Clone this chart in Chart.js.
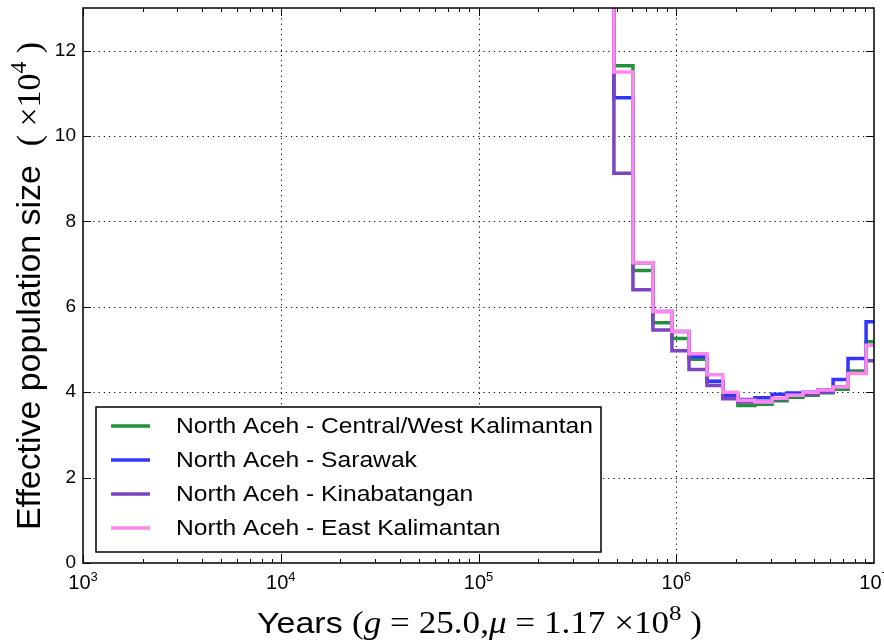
<!DOCTYPE html>
<html>
<head>
<meta charset="utf-8">
<script src="https://cdn.jsdelivr.net/npm/chart.js@4"></script>
<style>
html, body { margin: 0; padding: 0; background: #fff; }
#wrap { width: 884px; height: 644px; position: relative; }
</style>
</head>
<body>
<div id="wrap"><canvas id="graph"></canvas></div>
<script>
// step edges (years) shared by all four PSMC curves
const years = [4.0e5, 4.84e5, 6.04e5, 7.62e5, 9.51e5, 1.16e6, 1.43e6, 1.72e6, 2.05e6, 2.50e6,
  3.05e6, 3.63e6, 4.37e6, 5.21e6, 6.21e6, 7.39e6, 9.12e6, 1.2e7];

// effective population size (x10^4), value holds from this edge to the next one
const centralWest = [16, 11.65, 6.85, 5.63, 5.26, 4.77, 4.25, 3.89, 3.69, 3.72, 3.80, 3.88, 3.93, 3.99, 4.07, 4.50, 5.18, 5.18];
const sarawak = [16, 10.9, 7.03, 5.89, 5.42, 4.83, 4.26, 3.93, 3.83, 3.87, 3.95, 3.98, 4.00, 4.06, 4.30, 4.79, 5.65, 5.65];
const kinabatangan = [16, 9.13, 6.40, 5.46, 4.97, 4.53, 4.16, 3.85, 3.77, 3.77, 3.84, 3.93, 3.96, 4.00, 4.13, 4.45, 4.74, 4.74];
const eastKalimantan = [16, 11.5, 7.03, 5.89, 5.42, 4.90, 4.41, 4.00, 3.81, 3.77, 3.86, 3.93, 4.00, 4.05, 4.12, 4.44, 5.10, 5.10];

const seriesNames = [
  'North Aceh - Central/West Kalimantan',
  'North Aceh - Sarawak',
  'North Aceh - Kinabatangan',
  'North Aceh - East Kalimantan'
];
const seriesColors = ['#22913d', '#3434ff', '#7b44c0', '#ff88ee'];

const xTickValues = [1e3, 1e4, 1e5, 1e6, 1e7];
const xTickExps = ['3', '4', '5', '6', '7'];
const yTickValues = [0, 2, 4, 6, 8, 10, 12];

const SANS = '"Liberation Sans", Arial, sans-serif';
const SERIF = '"Liberation Serif", "DejaVu Serif", serif';

function pts(ys) {
  return ys.map((y, i) => ({ x: years[i], y: y }));
}

// draws text pieces with mixed fonts, centred on cx, stretched to a target width
function drawPieces(ctx, pieces, cx, baseY, target) {
  let total = 0;
  pieces.forEach(p => { ctx.font = p.font; p.w = ctx.measureText(p.text).width; total += p.w; });
  const sx = target ? target / total : 1;
  ctx.save();
  ctx.translate(cx - total * sx / 2, baseY);
  ctx.scale(sx, 1);
  ctx.textAlign = 'left';
  ctx.textBaseline = 'alphabetic';
  ctx.fillStyle = '#000';
  let x = 0;
  pieces.forEach(p => {
    ctx.font = p.font;
    ctx.fillText(p.text, x, -(p.up || 0));
    x += p.w;
  });
  ctx.restore();
}

const framePlugin = {
  id: 'frame',
  beforeDatasetsDraw(chart) {
    const ctx = chart.ctx, a = chart.chartArea;
    const xs = chart.scales.x, ys = chart.scales.y;
    ctx.save();
    ctx.strokeStyle = '#000';
    ctx.lineWidth = 1;
    ctx.setLineDash([1.2, 4]);
    xTickValues.slice(1, -1).forEach(v => {
      const px = Math.round(xs.getPixelForValue(v)) + 0.5;
      ctx.beginPath(); ctx.moveTo(px, a.top); ctx.lineTo(px, a.bottom); ctx.stroke();
    });
    yTickValues.slice(1).forEach(v => {
      const py = Math.round(ys.getPixelForValue(v)) + 0.5;
      ctx.beginPath(); ctx.moveTo(a.left, py); ctx.lineTo(a.right, py); ctx.stroke();
    });
    ctx.restore();
  },
  afterDatasetsDraw(chart) {
    const ctx = chart.ctx, a = chart.chartArea;
    const xs = chart.scales.x, ys = chart.scales.y;
    ctx.save();
    ctx.strokeStyle = '#000';
    ctx.lineWidth = 1;
    // x ticks, major and minor, bottom and top, pointing inward
    for (let e = 3; e < 7; e++) {
      for (let m = 1; m <= 9; m++) {
        const px = Math.round(xs.getPixelForValue(m * Math.pow(10, e))) + 0.5;
        const len = m === 1 ? 8 : 4;
        ctx.beginPath();
        ctx.moveTo(px, a.bottom); ctx.lineTo(px, a.bottom - len);
        ctx.moveTo(px, a.top); ctx.lineTo(px, a.top + len);
        ctx.stroke();
      }
    }
    yTickValues.forEach(v => {
      const py = Math.round(ys.getPixelForValue(v)) + 0.5;
      ctx.beginPath();
      ctx.moveTo(a.left, py); ctx.lineTo(a.left + 8, py);
      ctx.moveTo(a.right, py); ctx.lineTo(a.right - 8, py);
      ctx.stroke();
    });
    ctx.lineWidth = 1.5;
    ctx.strokeRect(a.left, a.top, a.right - a.left, a.bottom - a.top);
    ctx.restore();

    // x tick labels: 10 with a raised exponent
    xTickValues.forEach((v, i) => {
      drawPieces(ctx, [
        { text: '10', font: '20px ' + SANS },
        { text: xTickExps[i], font: '13px ' + SANS, up: 8 }
      ], xs.getPixelForValue(v), a.bottom + 26);
    });
  },
  afterDraw(chart) {
    const ctx = chart.ctx, a = chart.chartArea;
    ctx.save();
    // legend box
    const bx = 96, by = 407, bw = 505, bh = 145;
    ctx.fillStyle = '#fff';
    ctx.fillRect(bx, by, bw, bh);
    ctx.strokeStyle = '#000';
    ctx.lineWidth = 1.5;
    ctx.strokeRect(bx, by, bw, bh);
    ctx.font = '22px ' + SANS;
    const sx = 417 / ctx.measureText(seriesNames[0]).width;
    seriesNames.forEach((name, i) => {
      const cy = 426 + i * 34;
      ctx.strokeStyle = seriesColors[i];
      ctx.lineWidth = 3.5;
      ctx.beginPath(); ctx.moveTo(111, cy); ctx.lineTo(150, cy); ctx.stroke();
      ctx.save();
      ctx.translate(176, cy + 1);
      ctx.scale(sx, 1);
      ctx.fillStyle = '#000';
      ctx.font = '22px ' + SANS;
      ctx.textAlign = 'left';
      ctx.textBaseline = 'middle';
      ctx.fillText(name, 0, 0);
      ctx.restore();
    });
    // x axis title
    drawPieces(ctx, [
      { text: 'Years ', font: '30px ' + SANS },
      { text: '(', font: '31px ' + SERIF },
      { text: 'g', font: 'italic 31px ' + SERIF },
      { text: ' = ', font: '31px ' + SERIF },
      { text: '25.0,', font: '31px ' + SERIF },
      { text: 'μ', font: 'italic 31px ' + SERIF },
      { text: ' = ', font: '31px ' + SERIF },
      { text: '1.17 ×10', font: '31px ' + SERIF },
      { text: '8', font: '22px ' + SERIF, up: 13 },
      { text: ' )', font: '31px ' + SERIF }
    ], 479.5, 633, 445);
    // y axis title, rotated
    ctx.translate(40, 286);
    ctx.rotate(-Math.PI / 2);
    drawPieces(ctx, [
      { text: 'Effective population size  ', font: '33px ' + SANS },
      { text: '( ×10', font: '33px ' + SERIF },
      { text: '4', font: '23px ' + SERIF, up: 14 },
      { text: ' )', font: '33px ' + SERIF }
    ], 0, 0, 488);
    ctx.restore();
  }
};

const datasets = [centralWest, sarawak, kinabatangan, eastKalimantan].map((ys, i) => ({
  label: seriesNames[i],
  data: pts(ys),
  borderColor: seriesColors[i],
  backgroundColor: seriesColors[i],
  borderWidth: 3.5,
  pointRadius: 0,
  stepped: 'before',
  fill: false,
  order: 4 - i
}));

new Chart(document.getElementById('graph'), {
  type: 'line',
  data: { datasets: datasets },
  options: {
    responsive: true,
    maintainAspectRatio: false,
    animation: false,
    layout: { padding: { left: 0, right: 10, top: 8, bottom: 0 } },
    plugins: { legend: { display: false }, tooltip: { enabled: false } },
    scales: {
      x: {
        type: 'logarithmic',
        min: 1e3,
        max: 1e7,
        grid: { display: false, drawTicks: false },
        border: { display: false },
        afterBuildTicks: s => { s.ticks = xTickValues.map(v => ({ value: v })); },
        afterFit: s => { s.height = 81; s.paddingLeft = 0; s.paddingRight = 0; },
        ticks: { display: false }
      },
      y: {
        min: 0,
        max: 13,
        grid: { display: false, drawTicks: false },
        border: { display: false },
        afterBuildTicks: s => { s.ticks = yTickValues.map(v => ({ value: v })); },
        afterFit: s => { s.width = 83; s.paddingTop = 0; s.paddingBottom = 0; },
        ticks: {
          padding: 7,
          color: '#000',
          font: { family: SANS, size: 19 },
          callback: v => String(v)
        }
      }
    }
  },
  plugins: [framePlugin]
});
</script>
</body>
</html>
